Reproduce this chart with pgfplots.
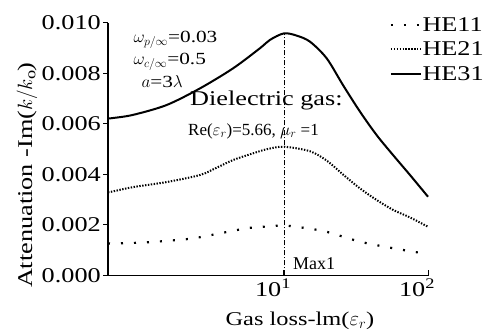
\documentclass[border=0pt]{standalone}
\usepackage{fontspec}
\setmainfont{Liberation Serif}[FakeStretch=1.25]
\newfontfamily\narrowserif{Liberation Serif}
\usepackage{pgfplots}
\pgfplotsset{compat=1.18}
\begin{document}
\begin{tikzpicture}
\begin{axis}[
  scale only axis, width=320bp, height=252.5bp,
  xmode=log, xmin=0.6, xmax=100, ymin=0, ymax=0.010,
  axis lines*=left, axis line style={line width=1.1bp, black},
  xtick={10,100}, xticklabels={10\textsuperscript{1},10\textsuperscript{2}},
  xminorticks=false,
  ytick={0,0.002,0.004,0.006,0.008,0.010},
  yticklabels={0.000,0.002,0.004,0.006,0.008,0.010},
  scaled y ticks=false,
  xtick align=inside, ytick align=outside,
  major tick length=5bp,
  tick style={line width=1bp, black},
  ticklabel style={font=\fontsize{21bp}{24bp}\selectfont},
  yticklabel style={inner xsep=2bp},
  xticklabel style={xshift=-11bp},
  clip=false,
  legend style={at={(0.88,1.025)}, anchor=north west, draw=none, fill=none,
    font=\fontsize{21bp}{24bp}\selectfont, inner sep=0pt, row sep=8bp,
    nodes={inner sep=0.5bp}},
  legend cell align=left,
  legend image code/.code={\draw[#1] (0bp,0bp) -- (30bp,0bp);},
]
\addplot[black, line width=2.2bp, dash pattern=on 2bp off 11bp, smooth] coordinates {
 (0.6,0.00127) (0.649,0.00127) (1.0,0.00130) (1.53,0.00137) (2.33,0.00147)
 (3.59,0.00167) (5.51,0.00187) (7.15,0.00193) (10,0.00198) (14.38,0.00187)
 (19.8,0.00173) (33.7,0.00134) (57.2,0.00108) (92.3,0.00088) (100,0.00085)};
\addlegendentry{HE11}
\addplot[black, line width=2bp, dash pattern=on 1.4bp off 1.5bp, smooth] coordinates {
 (0.6,0.00330) (0.636,0.00332) (0.894,0.00350) (1.53,0.00370) (2.61,0.00398)
 (3.41,0.00427) (4.42,0.00457) (5.81,0.00480) (7.59,0.00500) (10,0.00510)
 (15.16,0.00492) (19.8,0.00455) (25.7,0.00400) (33.7,0.00345) (44.0,0.00299)
 (57.2,0.00260) (75.0,0.00230) (100,0.00193)};
\addlegendentry{HE21}
\addplot[black, line width=2bp, smooth] coordinates {
 (0.6,0.00622) (0.636,0.00623) (0.894,0.00636) (1.53,0.00675) (2.61,0.00741)
 (4.42,0.00820) (6.81,0.00900) (7.99,0.00933) (10,0.00959) (12.25,0.00950)
 (15.16,0.00926) (19.8,0.00860) (25.7,0.00754) (33.7,0.00649) (44.0,0.00556)
 (57.2,0.00477) (75.0,0.00398) (100,0.00312)};
\addlegendentry{HE31}
\addplot[black, line width=0.8bp, dash pattern=on 5bp off 2bp on 1bp off 2bp, forget plot] coordinates {(10,0) (10,0.00959)};
\end{axis}
\node[anchor=west, font=\fontsize{17bp}{20bp}\selectfont] at (22bp,235.5bp) {$\omega_{p/\infty}$=0.03};
\node[anchor=west, font=\fontsize{17bp}{20bp}\selectfont] at (22bp,213.5bp) {$\omega_{c/\infty}$=0.5};
\node[anchor=west, font=\fontsize{17bp}{20bp}\selectfont] at (30bp,193.5bp) {$a$=3$\lambda$};
\node[anchor=west, inner sep=0pt, font=\fontsize{21bp}{24bp}\selectfont] at (82bp,175.5bp) {Dielectric gas:};
\node[anchor=west, inner sep=0pt, font=\fontsize{17bp}{20bp}\narrowserif] at (80bp,144.5bp) {Re($\varepsilon_r$)=5.66, $\mu_r$ =1};
\node[anchor=west, inner sep=0pt, font=\fontsize{18bp}{21bp}\narrowserif] at (185bp,11.5bp) {Max1};
\node[font=\fontsize{19.5bp}{22bp}\selectfont] at (192bp,-45.5bp) {Gas loss-lm($\varepsilon_r$)};
\node[rotate=90, font=\fontsize{21bp}{24bp}\selectfont] at (-81bp,100bp) {Attenuation -Im($k/k_{\mathrm{o}}$)};
\path[use as bounding box] (-108bp,-58.5bp) rectangle (396bp,275.5bp);
\end{tikzpicture}
\end{document}
